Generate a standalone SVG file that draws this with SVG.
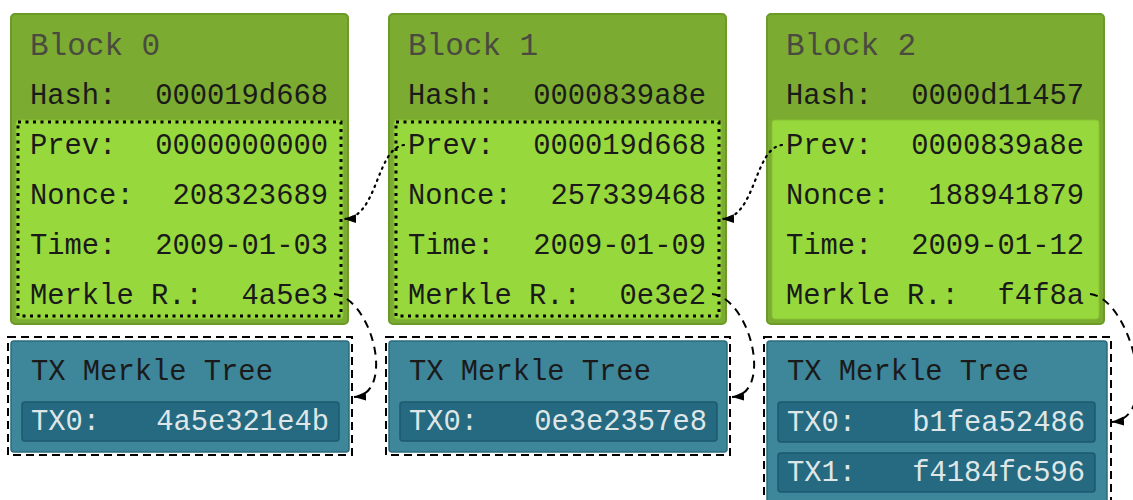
<svg xmlns="http://www.w3.org/2000/svg" width="1133" height="500" viewBox="0 0 1133 500">
<defs>
<style>
.outer{fill:#7bab30;stroke:#6c9a27;stroke-width:2}
.inner{fill:#97d83c;stroke:#86c232;stroke-width:1}
.dotbox{fill:none;stroke:#000;stroke-width:3;stroke-dasharray:3 4.5}
.dashbox{fill:none;stroke:#000;stroke-width:2;stroke-dasharray:8 5}
.teal{fill:#3e8699;stroke:#2c6b7e;stroke-width:1.5}
.txrow{fill:#256a80;stroke:#1d5a6d;stroke-width:1.5}
text{font-family:"Liberation Mono","DejaVu Sans Mono",monospace;font-size:28.8px;fill:#1a1a1a}
.title{font-size:31px;fill:#4a4a40}
.end{text-anchor:end}
.tx{fill:#dfe6e8}
.dot{fill:none;stroke:#000;stroke-width:2.2;stroke-dasharray:1.5 5;stroke-linecap:round}
.dash{fill:none;stroke:#000;stroke-width:2;stroke-dasharray:8 6}
</style>
<marker id="ah" markerUnits="userSpaceOnUse" markerWidth="14" markerHeight="10" refX="12" refY="5" orient="auto">
<path d="M0,0.5 L12,5 L0,9.5 z" fill="#000"/>
</marker>
</defs>

<g id="block0">
<rect class="outer" x="11" y="14" width="337" height="310" rx="4"/>
<rect class="inner" x="16" y="120" width="327" height="199" rx="3"/>
<rect class="dotbox" x="18" y="122" width="323" height="194"/>
<text class="title" x="30" y="55">Block 0</text>
<text x="30" y="104">Hash:</text><text class="end" x="328" y="104">000019d668</text>
<text x="30" y="154">Prev:</text><text class="end" x="328" y="154">0000000000</text>
<text x="30" y="204">Nonce:</text><text class="end" x="328" y="204">208323689</text>
<text x="30" y="254">Time:</text><text class="end" x="328" y="254">2009-01-03</text>
<text x="30" y="304">Merkle R.:</text><text class="end" x="328" y="304">4a5e3</text>
</g>

<g id="block1">
<rect class="outer" x="389" y="14" width="337" height="310" rx="4"/>
<rect class="inner" x="394" y="120" width="327" height="199" rx="3"/>
<rect class="dotbox" x="396" y="122" width="323" height="194"/>
<text class="title" x="408" y="55">Block 1</text>
<text x="408" y="104">Hash:</text><text class="end" x="706" y="104">0000839a8e</text>
<text x="408" y="154">Prev:</text><text class="end" x="706" y="154">000019d668</text>
<text x="408" y="204">Nonce:</text><text class="end" x="706" y="204">257339468</text>
<text x="408" y="254">Time:</text><text class="end" x="706" y="254">2009-01-09</text>
<text x="408" y="304">Merkle R.:</text><text class="end" x="706" y="304">0e3e2</text>
</g>

<g id="block2">
<rect class="outer" x="767" y="14" width="337" height="310" rx="4"/>
<rect class="inner" x="772" y="120" width="327" height="199" rx="3"/>
<text class="title" x="786" y="55">Block 2</text>
<text x="786" y="104">Hash:</text><text class="end" x="1084" y="104">0000d11457</text>
<text x="786" y="154">Prev:</text><text class="end" x="1084" y="154">0000839a8e</text>
<text x="786" y="204">Nonce:</text><text class="end" x="1084" y="204">188941879</text>
<text x="786" y="254">Time:</text><text class="end" x="1084" y="254">2009-01-12</text>
<text x="786" y="304">Merkle R.:</text><text class="end" x="1084" y="304">f4f8a</text>
</g>

<g id="tree0">
<rect class="dashbox" x="8" y="337" width="344" height="118"/>
<rect class="teal" x="11" y="341" width="338" height="111" rx="3"/>
<text x="31" y="380">TX Merkle Tree</text>
<rect class="txrow" x="22" y="402" width="317" height="39" rx="3"/>
<text class="tx" x="31" y="430">TX0:</text><text class="tx end" x="329" y="430">4a5e321e4b</text>
</g>

<g id="tree1">
<rect class="dashbox" x="386" y="337" width="344" height="118"/>
<rect class="teal" x="389" y="341" width="338" height="111" rx="3"/>
<text x="409" y="380">TX Merkle Tree</text>
<rect class="txrow" x="400" y="402" width="317" height="39" rx="3"/>
<text class="tx" x="409" y="430">TX0:</text><text class="tx end" x="707" y="430">0e3e2357e8</text>
</g>

<g id="tree2">
<rect class="dashbox" x="764" y="337" width="347" height="200"/>
<rect class="teal" x="767" y="341" width="340" height="200" rx="3"/>
<text x="787" y="380">TX Merkle Tree</text>
<rect class="txrow" x="778" y="402" width="317" height="40" rx="3"/>
<text class="tx" x="787" y="431">TX0:</text><text class="tx end" x="1085" y="431">b1fea52486</text>
<rect class="txrow" x="778" y="453" width="317" height="39" rx="3"/>
<text class="tx" x="787" y="481">TX1:</text><text class="tx end" x="1085" y="481">f4184fc596</text>
</g>

<g id="connectors">
<path class="dot" d="M 404 145 C 376 148, 378 218, 344 219" marker-end="url(#ah)"/>
<path class="dot" d="M 782 145 C 754 148, 756 218, 722 219" marker-end="url(#ah)"/>
<path class="dash" d="M 334 294 C 372 298, 396 394, 354 397" marker-end="url(#ah)"/>
<path class="dash" d="M 712 294 C 750 298, 774 394, 732 397" marker-end="url(#ah)"/>
<path class="dash" d="M 1090 294 C 1130 298, 1162 418, 1112 422" marker-end="url(#ah)"/>
</g>
</svg>
